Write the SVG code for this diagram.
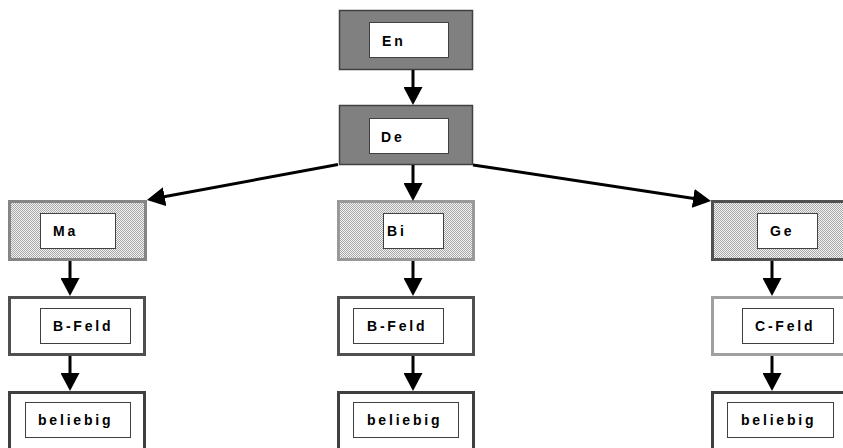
<svg xmlns="http://www.w3.org/2000/svg" width="843" height="448" viewBox="0 0 843 448">
<defs>
<pattern id="dots" width="2" height="2" patternUnits="userSpaceOnUse">
<rect width="2" height="2" fill="#f2f2f2"/>
<rect width="1" height="1" fill="#a8a8a8"/>
<rect x="1" y="1" width="1" height="1" fill="#a8a8a8"/>
</pattern>
<marker id="ah" markerUnits="userSpaceOnUse" markerWidth="18" markerHeight="19" refX="9" refY="9.5" orient="auto">
<path d="M0,0 L18,9.5 L0,19 z" fill="#000"/>
</marker>
</defs>
<style>
.dark{fill:#808080;stroke:#404040;stroke-width:1.5}
.hatch{fill:url(#dots);stroke-width:3}
.plain{fill:#fff;stroke-width:3}
.inner{fill:#fff;stroke:#404040;stroke-width:1}
text{font-family:"Liberation Sans",Arial,sans-serif;font-weight:bold;font-size:14px;letter-spacing:2.8px;fill:#000}
.conn line{stroke:#000;stroke-width:3;marker-end:url(#ah)}
</style>
<rect width="843" height="448" fill="#fff"/>
<g id="En">
<rect class="dark" x="339.5" y="10.5" width="133" height="59"/>
<rect class="inner" x="369.5" y="22.5" width="79" height="35"/>
<text x="382" y="46">En</text>
</g>
<g id="De">
<rect class="dark" x="339.5" y="105.5" width="133" height="59"/>
<rect class="inner" x="369.5" y="118.5" width="79" height="35"/>
<text x="381" y="142">De</text>
</g>
<g id="Ma">
<rect class="hatch" stroke="#858585" x="9.5" y="201.5" width="136" height="58"/>
<rect class="inner" x="40.5" y="213.5" width="75" height="35"/>
<text x="53" y="236">Ma</text>
</g>
<g id="Bi">
<rect class="hatch" stroke="#999" x="338.5" y="201.5" width="135" height="58"/>
<rect class="inner" x="383.5" y="213.5" width="60" height="35"/>
<text x="387" y="236">Bi</text>
</g>
<g id="Ge">
<rect class="hatch" stroke="#505050" x="712.5" y="201.5" width="140" height="58"/>
<rect class="inner" x="757.5" y="213.5" width="60" height="35"/>
<text x="770" y="236">Ge</text>
</g>
<g id="BFeld1">
<rect class="plain" stroke="#505050" x="9.5" y="297.5" width="135" height="57"/>
<rect class="inner" x="40.5" y="308.5" width="90" height="35"/>
<text x="53" y="331">B-Feld</text>
</g>
<g id="BFeld2">
<rect class="plain" stroke="#505050" x="338.5" y="297.5" width="135" height="57"/>
<rect class="inner" x="353.5" y="308.5" width="90" height="35"/>
<text x="367" y="331">B-Feld</text>
</g>
<g id="CFeld">
<rect class="plain" stroke="#a0a0a0" x="712.5" y="297.5" width="140" height="57"/>
<rect class="inner" x="742.5" y="308.5" width="91" height="35"/>
<text x="755" y="331">C-Feld</text>
</g>
<g id="beliebig1">
<rect class="plain" stroke="#404040" x="9.5" y="392.5" width="135" height="70"/>
<rect class="inner" x="25.5" y="402.5" width="105" height="35"/>
<text x="38" y="425">beliebig</text>
</g>
<g id="beliebig2">
<rect class="plain" stroke="#404040" x="338.5" y="392.5" width="135" height="70"/>
<rect class="inner" x="353.5" y="402.5" width="105" height="35"/>
<text x="367" y="425">beliebig</text>
</g>
<g id="beliebig3">
<rect class="plain" stroke="#404040" x="712.5" y="392.5" width="140" height="70"/>
<rect class="inner" x="727.5" y="402.5" width="106" height="35"/>
<text x="741" y="425">beliebig</text>
</g>
<g id="connectors" class="conn">
<line x1="413" y1="70" x2="413" y2="96"/>
<line x1="338" y1="164.5" x2="155.8" y2="198.3"/>
<line x1="413" y1="165" x2="413" y2="192"/>
<line x1="473" y1="165" x2="702.1" y2="199.7"/>
<line x1="70" y1="261" x2="70" y2="287"/>
<line x1="413" y1="261" x2="413" y2="287"/>
<line x1="772" y1="261" x2="772" y2="287"/>
<line x1="70" y1="356" x2="70" y2="382"/>
<line x1="413" y1="356" x2="413" y2="382"/>
<line x1="772" y1="356" x2="772" y2="382"/>
</g>
</svg>
